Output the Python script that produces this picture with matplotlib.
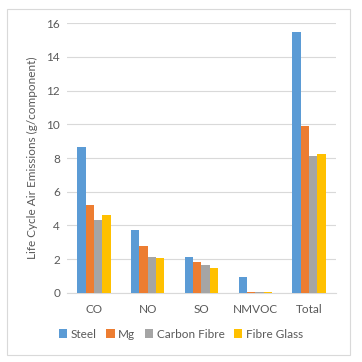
import numpy as np
import matplotlib
matplotlib.use("Agg")
import matplotlib.pyplot as plt
from matplotlib.patches import Rectangle

plt.rcParams['font.family'] = ['Lato', 'DejaVu Sans']

# data
categories = ['CO', 'NO', 'SO', 'NMVOC', 'Total']
series = ['Steel', 'Mg', 'Carbon Fibre', 'Fibre Glass']
steel = [8.67, 3.73, 2.13, 0.95, 15.47]
mg = [5.21, 2.78, 1.84, 0.05, 9.9]
carbon = [4.33, 2.13, 1.66, 0.05, 8.12]
glass = [4.64, 2.07, 1.48, 0.05, 8.24]
colors = ['#5B9BD5', '#ED7D31', '#A5A5A5', '#FFC000']
yticks = [0, 2, 4, 6, 8, 10, 12, 14, 16]

txt = '#595959'
grid = '#D9D9D9'

fig = plt.figure(figsize=(3.62, 3.62), dpi=100)
ax = fig.add_axes([0.185, 0.191, 0.743, 0.745])

x = np.arange(len(categories))
w = 0.155
for i, (vals, name) in enumerate(zip([steel, mg, carbon, glass], series)):
    ax.bar(x + (i - 1.5) * w, vals, w, color=colors[i], label=name, zorder=3)

ax.set_xlim(-0.5, len(categories) - 0.5)
ax.set_ylim(0, 16)
ax.set_yticks(yticks)
ax.set_xticks(x)
ax.set_xticklabels(categories)
ax.yaxis.grid(True, color=grid, linewidth=0.8, zorder=0)
for s in ['top', 'right', 'left']:
    ax.spines[s].set_visible(False)
ax.spines['bottom'].set_color(grid)
ax.spines['bottom'].set_linewidth(0.8)
ax.tick_params(length=0, labelsize=8.5, colors=txt, pad=5)
ax.tick_params(axis='x', pad=8)
ax.set_ylabel('Life Cycle Air Emissions (g/component)', fontsize=8.5, color=txt, labelpad=6)

# legend is centred on the whole chart area, as in Excel
leg = fig.legend(loc='center', bbox_to_anchor=(181 / 362, 1 - 334 / 362), ncol=4,
                 frameon=False, fontsize=8.5, handlelength=0.7, handleheight=0.7,
                 handletextpad=0.3, columnspacing=0.8, labelcolor=txt)

fig.patches.append(Rectangle((7 / 362, 1 - 355 / 362), 343 / 362, 346 / 362,
                             transform=fig.transFigure, fill=False,
                             edgecolor='#D9D9D9', linewidth=0.8))

fig.savefig('out.png', dpi=100)
